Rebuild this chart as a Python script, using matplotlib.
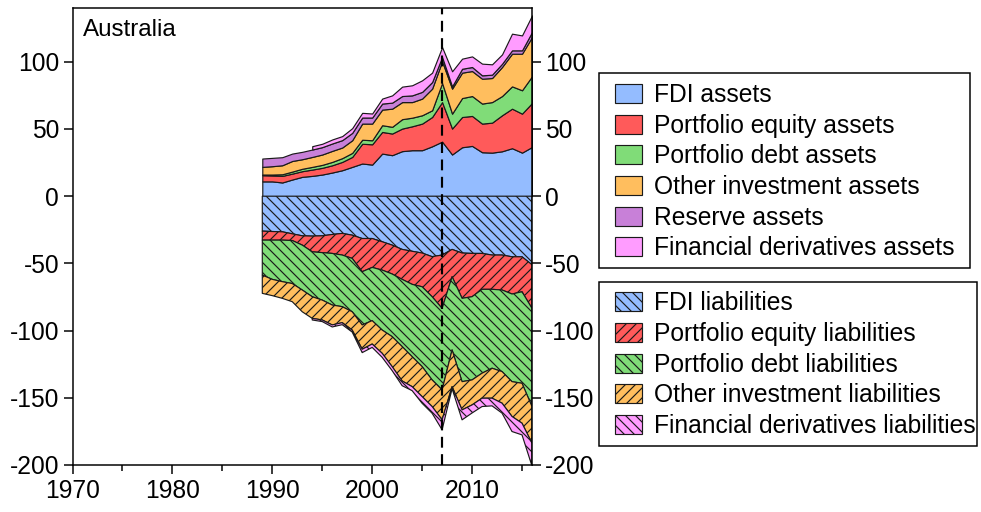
import numpy as np
import matplotlib
matplotlib.use('Agg')
import matplotlib.pyplot as plt
from matplotlib.patches import Patch, Rectangle
from matplotlib.ticker import MultipleLocator

plt.rcParams['font.family'] = ['Liberation Sans', 'DejaVu Sans']
plt.rcParams['hatch.linewidth'] = 0.7
plt.rcParams['axes.unicode_minus'] = False

nan = np.nan
years = list(range(1989, 2017))

# Assets (% of GDP)
fdi_assets = [11, 11, 10.2, 12.4, 14.4, 15.1, 16.1, 17.6, 19.3, 21.8, 24.3, 23.5, 31.7, 30.5,
              33.5, 34.2, 34.2, 37.1, 40.6, 31, 36.4, 37.4, 32.7, 32.4, 33.4, 35.7, 32.4, 36.6]
pe_assets = [4.6, 4.4, 4.9, 4.4, 4.2, 4.7, 5, 5.4, 6.2, 7.4, 14.7, 15.1, 16.1, 16.1,
             16.8, 17.8, 19.8, 21.8, 29.4, 19.3, 22.5, 22.3, 21.3, 22.3, 26.8, 29.4, 29, 32.7]
pd_assets = [0.5, 0.7, 1.2, 1.5, 1.8, 2, 2.2, 2.5, 2.8, 3, 3, 3, 5, 5,
             7, 6.4, 6.2, 5, 14.2, 11.1, 14.1, 14.8, 14.9, 15.3, 14.3, 16.6, 17.4, 19.9]
oi_assets = [5.7, 6.2, 6.7, 7.9, 7.1, 7.4, 7.7, 8.2, 7.9, 9.4, 12, 12.4, 11.6, 13.5,
             12.7, 11.6, 12.4, 16.1, 16.1, 18.6, 18.9, 18.6, 18.5, 17.9, 21.6, 24.3, 27.2, 29.2]
res_assets = [6.2, 6.2, 6, 5.5, 5.5, 5.5, 5.5, 5.5, 5.5, 5.5, 4.5, 4.5, 4.5, 4.5,
              4.5, 5, 5, 4.9, 3.2, 1.7, 2.9, 3, 2.5, 2.5, 2.4, 2.5, 2.5, 3.7]
fd_assets = [nan, nan, nan, nan, nan, 2.5, 2.5, 3, 3, 3.5, 3.5, 3, 3.7, 5.4,
             7, 7.5, 8.6, 7, 7.4, 11.2, 7.5, 7.9, 8.7, 7.7, 7, 12.4, 11.1, 12.4]

# Liabilities (% of GDP, shown as negative)
fdi_liab = [26, 26.3, 26.5, 28, 29.5, 29.7, 29.5, 28.5, 27.7, 29, 31.5, 31.5, 33.9, 36.4,
            39.6, 41, 42.3, 45, 43.8, 39.6, 42.3, 42.6, 42.6, 43.8, 43.8, 45.1, 45.1, 51]
pe_liab = [6.7, 6.4, 6.2, 5, 6.9, 11.7, 12.5, 14.1, 16.1, 17.3, 24.7, 21.5, 21.1, 21.5,
           22.3, 24.6, 25.1, 29.8, 39.7, 20.3, 33.7, 32.2, 26.7, 25.5, 26, 27.7, 26, 32.5]
pd_liab = [26, 29.2, 30.9, 32, 33.4, 33.4, 35.3, 38.4, 38.4, 39.7, 39.6, 39.6, 44.6, 46.6,
           50, 53.8, 59.4, 61.9, 60.6, 54.5, 62, 61.9, 62.4, 58.7, 60.7, 65.2, 68.1, 73]
oi_liab = [13.6, 12.1, 12.4, 13.5, 16.2, 16.1, 14.8, 14.8, 11.9, 13.6, 18.1, 17.4, 17.3, 22.3,
           25.6, 22.3, 22.3, 19.8, 22.3, 27.3, 21, 18.6, 18.6, 22.3, 23.5, 25.9, 29.7, 27.3]
fd_liab = [nan, nan, nan, nan, nan, 1.2, 1.2, 1.5, 1.5, 1.5, 2.5, 2.5, 3, 3,
           3.5, 3, 5, 5, 7.4, 1.5, 7.4, 6, 6.2, 5.7, 7.4, 11.2, 8.7, 17]

asset_labels = ['FDI assets', 'Portfolio equity assets', 'Portfolio debt assets',
                'Other investment assets', 'Reserve assets', 'Financial derivatives assets']
liab_labels = ['FDI liabilities', 'Portfolio equity liabilities', 'Portfolio debt liabilities',
               'Other investment liabilities', 'Financial derivatives liabilities']
crisis_year = 2007
country = 'Australia'

c_fdi = '#94BCFF'
c_pe = '#FF5A5A'
c_pd = '#80DC78'
c_oi = '#FFBE5E'
c_res = '#C880D8'
c_fd = '#FF9CFF'

asset_series = [fdi_assets, pe_assets, pd_assets, oi_assets, res_assets, fd_assets]
asset_colors = [c_fdi, c_pe, c_pd, c_oi, c_res, c_fd]
liab_series = [fdi_liab, pe_liab, pd_liab, oi_liab, fd_liab]
liab_colors = [c_fdi, c_pe, c_pd, c_oi, c_fd]
liab_hatches = ['\\\\\\\\', '////', '\\\\\\\\', '////', '\\\\\\\\']

W, H = 981, 512
DPI = 120
fig = plt.figure(figsize=(W / DPI, H / DPI), dpi=DPI)
ax = fig.add_axes([72.5 / W, 47 / H, (532 - 72.5) / W, (504 - 47) / H])

x = np.array(years, dtype=float)
edge = '#1a1a1a'
lw = 0.7

base = np.zeros(len(x))
for vals, col in zip(asset_series, asset_colors):
    v = np.array(vals, dtype=float)
    top = base + v
    ax.fill_between(x, base, top, facecolor=col, edgecolor=edge, linewidth=lw)
    base = base + np.nan_to_num(v)

base = np.zeros(len(x))
for vals, col, h in zip(liab_series, liab_colors, liab_hatches):
    v = np.array(vals, dtype=float)
    bot = base - v
    ax.fill_between(x, base, bot, facecolor=col, edgecolor=edge, linewidth=lw, hatch=h)
    base = base - np.nan_to_num(v)

ax.axvline(crisis_year, color='black', linewidth=1.3, dashes=(5, 3), zorder=5)

ax.set_xlim(1970, 2016)
ax.set_ylim(-200, 140)
ax.xaxis.set_major_locator(MultipleLocator(10))
ax.xaxis.set_minor_locator(MultipleLocator(5))
ax.yaxis.set_major_locator(MultipleLocator(50))
ax.tick_params(axis='both', which='major', direction='out', length=5.5, width=0.9,
               labelsize=14.8, pad=2.5)
ax.tick_params(axis='x', which='major', pad=3)
ax.tick_params(axis='x', which='minor', direction='out', length=3.5, width=0.9)
ax.tick_params(axis='y', which='both', left=True, right=True, labelleft=True, labelright=True)
for s in ax.spines.values():
    s.set_linewidth(0.9)

ax.text(0.023, 0.975, country, transform=ax.transAxes, ha='left', va='top', fontsize=14.5)

# legend frames (pixel boxes: left, top, right, bottom)
for (l, t, r, b) in [(599, 73, 970, 268), (599, 282, 977, 446)]:
    fig.patches.append(Rectangle((l / W, 1 - b / H), (r - l) / W, (b - t) / H,
                                 transform=fig.transFigure, facecolor='white',
                                 edgecolor='black', linewidth=0.9, zorder=3))

leg_kw = dict(loc='upper left', fontsize=14.8, frameon=False,
              handlelength=1.1, handleheight=0.81,
              handletextpad=0.5, labelspacing=0.27, borderpad=0, borderaxespad=0)
h1 = [Patch(facecolor=c, edgecolor=edge, linewidth=lw, label=l)
      for c, l in zip(asset_colors, asset_labels)]
h2 = [Patch(facecolor=c, edgecolor=edge, linewidth=lw, hatch=h, label=l)
      for c, h, l in zip(liab_colors, liab_hatches, liab_labels)]
l1 = fig.legend(handles=h1, bbox_to_anchor=(615 / W, 1 - 83 / H), **leg_kw)
l2 = fig.legend(handles=h2, bbox_to_anchor=(615 / W, 1 - 291.5 / H), **leg_kw)
l1.set_zorder(6)
l2.set_zorder(6)

fig.savefig('out.png', dpi=DPI)
